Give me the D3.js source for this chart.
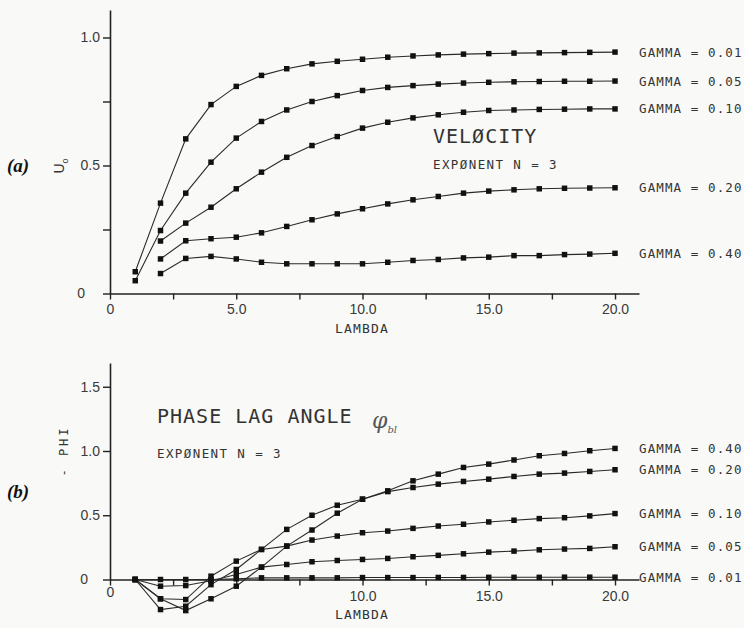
<!DOCTYPE html>
<html>
<head>
<meta charset="utf-8">
<script src="https://cdn.jsdelivr.net/npm/d3@7"></script>
<style>
  html, body { margin: 0; padding: 0; background: #f9f9f7; }
  svg { display: block; }
</style>
</head>
<body>
<div id="chart"></div>
<script>
// lambda values (x), shared by both panels
const lambda = [1, 2, 3, 4, 5, 6, 7, 8, 9, 10, 11, 12, 13, 14, 15, 16, 17, 18, 19, 20]
const gammas = ['0.01', '0.05', '0.10', '0.20', '0.40']

// (a) velocity U0, one array per gamma (null = not computed)
const velG001 = [0.085, 0.353, 0.604, 0.738, 0.809, 0.852, 0.878, 0.897, 0.907, 0.915, 0.923, 0.928, 0.932, 0.935, 0.937, 0.939, 0.940, 0.941, 0.942, 0.943]
const velG005 = [0.05, 0.246, 0.392, 0.513, 0.607, 0.672, 0.717, 0.750, 0.773, 0.793, 0.805, 0.812, 0.818, 0.822, 0.825, 0.827, 0.828, 0.829, 0.829, 0.830]
const velG010 = [null, 0.205, 0.275, 0.337, 0.409, 0.474, 0.532, 0.578, 0.613, 0.646, 0.669, 0.686, 0.698, 0.708, 0.715, 0.717, 0.719, 0.720, 0.721, 0.721]
const velG020 = [null, 0.135, 0.206, 0.214, 0.220, 0.237, 0.262, 0.288, 0.311, 0.331, 0.350, 0.366, 0.379, 0.392, 0.400, 0.405, 0.409, 0.411, 0.412, 0.413]
const velG040 = [null, 0.078, 0.137, 0.145, 0.135, 0.122, 0.116, 0.116, 0.116, 0.116, 0.122, 0.129, 0.133, 0.139, 0.142, 0.148, 0.148, 0.152, 0.154, 0.157]

// (b) phase lag angle -PHI
const phiG001 = [0, 0, 0, 0, 0.005, 0.013, 0.013, 0.013, 0.013, 0.015, 0.015, 0.015, 0.016, 0.016, 0.017, 0.017, 0.017, 0.018, 0.018, 0.018]
const phiG005 = [0, -0.052, -0.047, -0.01, 0.039, 0.096, 0.117, 0.138, 0.148, 0.156, 0.164, 0.177, 0.188, 0.200, 0.213, 0.221, 0.231, 0.237, 0.242, 0.255]
const phiG010 = [0, -0.15, -0.156, 0.026, 0.143, 0.234, 0.260, 0.307, 0.338, 0.364, 0.377, 0.398, 0.416, 0.430, 0.448, 0.461, 0.474, 0.481, 0.495, 0.513]
const phiG020 = [0, -0.234, -0.208, -0.04, 0.078, 0.234, 0.390, 0.500, 0.578, 0.625, 0.684, 0.716, 0.742, 0.763, 0.781, 0.802, 0.820, 0.828, 0.841, 0.854]
const phiG040 = [0, -0.15, -0.242, -0.15, -0.052, 0.096, 0.260, 0.385, 0.516, 0.625, 0.690, 0.768, 0.820, 0.872, 0.898, 0.930, 0.963, 0.981, 1.002, 1.020]

// ticks
const lambdaTicks = [0, 2.5, 5, 7.5, 10, 12.5, 15, 17.5, 20]
const velLambdaLabels = [0, 5, 10, 15, 20]
const phiLambdaLabels = [0, 10, 15, 20]
const velTicks = [0, 0.25, 0.5, 0.75, 1.0]
const velTickLabels = [0, 0.5, 1.0]
const phiTicks = [0, 0.5, 1.0, 1.5]
const phiTickLabels = [0, 0.5, 1.0, 1.5]

const W = 744
const H = 628
const INK = '#222'
const MONO = '"DejaVu Sans Mono", "Liberation Mono", monospace'
const SANS = '"Liberation Sans", Arial, sans-serif'

const svg = d3.select('#chart').append('svg')
  .attr('width', W)
  .attr('height', H)
  .attr('viewBox', `0 0 ${W} ${H}`)

svg.append('rect').attr('width', W).attr('height', H).attr('fill', '#f9f9f7')

const fmt = (d) => (d === 0 ? '0' : d3.format('.1f')(d))

function drawPanel(cfg) {
  const g = svg.append('g')
  const x = d3.scaleLinear().domain([0, 20.95]).range([110, 639])
  const y = d3.scaleLinear().domain([0, cfg.yMax]).range([cfg.y0, cfg.yTop])

  const xAxis = d3.axisBottom(x)
    .tickValues(lambdaTicks)
    .tickSize(6)
    .tickSizeOuter(0)
    .tickPadding(cfg.xPad)
    .tickFormat((d) => (cfg.xLabels.includes(d) ? fmt(d) : ''))

  const yAxis = d3.axisLeft(y)
    .tickValues(cfg.yTicks)
    .tickSize(7)
    .tickSizeOuter(0)
    .tickPadding(3)
    .tickFormat((d) => (cfg.yLabels.includes(d) ? fmt(d) : ''))

  const gx = g.append('g').attr('transform', `translate(0,${cfg.y0})`).call(xAxis)
  const gy = g.append('g').attr('transform', 'translate(110,0)').call(yAxis)

  ;[gx, gy].forEach((a) => {
    a.select('.domain').attr('stroke', INK).attr('stroke-width', 1.6)
    a.selectAll('.tick line').attr('stroke', INK).attr('stroke-width', 1.4)
    a.selectAll('.tick text')
      .attr('fill', '#3a3a3a')
      .style('font-family', SANS)
      .style('font-size', '14px')
  })
  gy.selectAll('.tick text').filter((d) => d === 0).attr('x', cfg.zeroX)
  gx.selectAll('.tick text').filter((d) => d === 0).attr('y', cfg.xPad + 6 + cfg.zeroLift)

  const line = d3.line()
    .defined((d) => d[1] != null)
    .x((d) => x(d[0]))
    .y((d) => y(d[1]))

  cfg.series.forEach((vals, i) => {
    const pts = lambda.map((l, j) => [l, vals[j]])
    g.append('path')
      .datum(pts)
      .attr('d', line)
      .attr('fill', 'none')
      .attr('stroke', '#2a2a2a')
      .attr('stroke-width', 1.1)

    g.append('g').selectAll('path')
      .data(pts.filter((p) => p[1] != null))
      .join('path')
      .attr('d', d3.symbol(d3.symbolSquare, 30))
      .attr('transform', (d) => `translate(${x(d[0])},${y(d[1])})`)
      .attr('fill', '#111')

    const last = pts[pts.length - 1]
    g.append('text')
      .attr('x', 639)
      .attr('y', y(last[1]))
      .attr('dy', '0.36em')
      .attr('fill', '#333')
      .style('font-family', MONO)
      .style('font-size', '12.5px')
      .style('letter-spacing', '1.1px')
      .text(`GAMMA = ${gammas[i]}`)
  })

  g.append('text')
    .attr('x', 362)
    .attr('y', cfg.lambdaY)
    .attr('text-anchor', 'middle')
    .attr('fill', '#333')
    .style('font-family', MONO)
    .style('font-size', '13px')
    .style('letter-spacing', '1.2px')
    .text('LAMBDA')

  g.append('text')
    .attr('x', 7)
    .attr('y', cfg.tagY)
    .attr('fill', '#111')
    .style('font-family', '"Liberation Serif", "DejaVu Serif", serif')
    .style('font-style', 'italic')
    .style('font-weight', 'bold')
    .style('font-size', '19px')
    .text(cfg.tag)

  return { x, y, g }
}

// panel (a)
const panelA = drawPanel({
  y0: 293.5, yTop: 10, yMax: 283.5 / 256,
  yTicks: velTicks, yLabels: velTickLabels,
  xLabels: velLambdaLabels, xPad: 5, zeroX: -25, zeroLift: 0,
  series: [velG001, velG005, velG010, velG020, velG040],
  lambdaY: 333, tag: '(a)', tagY: 172,
})

const uLabel = panelA.g.append('text')
  .attr('transform', 'translate(64,166) rotate(-90)')
  .attr('text-anchor', 'middle')
  .attr('fill', '#333')
  .style('font-family', SANS)
  .style('font-size', '14px')
uLabel.append('tspan').text('U')
uLabel.append('tspan').attr('dy', 4).style('font-size', '9px').text('o')

panelA.g.append('text')
  .attr('x', 433).attr('y', 143)
  .attr('fill', '#333')
  .style('font-family', MONO)
  .style('font-size', '20px')
  .style('letter-spacing', '1px')
  .text('VELØCITY')

panelA.g.append('text')
  .attr('x', 433).attr('y', 169)
  .attr('fill', '#333')
  .style('font-family', MONO)
  .style('font-size', '12.5px')
  .style('letter-spacing', '1.4px')
  .text('EXPØNENT N = 3')

// panel (b)
const panelB = drawPanel({
  y0: 579.5, yTop: 363, yMax: 216.5 / 128.5,
  yTicks: phiTicks, yLabels: phiTickLabels,
  xLabels: phiLambdaLabels, xPad: 6, zeroX: -22, zeroLift: -4,
  series: [phiG001, phiG005, phiG010, phiG020, phiG040],
  lambdaY: 619, tag: '(b)', tagY: 498,
})

panelB.g.append('text')
  .attr('transform', 'translate(68,451) rotate(-90)')
  .attr('text-anchor', 'middle')
  .attr('fill', '#333')
  .style('font-family', MONO)
  .style('font-size', '12px')
  .style('letter-spacing', '3px')
  .text('- PHI')

panelB.g.append('text')
  .attr('x', 157).attr('y', 423)
  .attr('fill', '#333')
  .style('font-family', MONO)
  .style('font-size', '20px')
  .style('letter-spacing', '1px')
  .text('PHASE LAG ANGLE')

const phiSymbol = panelB.g.append('text')
  .attr('x', 372).attr('y', 428)
  .attr('fill', '#555')
  .style('font-family', '"DejaVu Serif", serif')
  .style('font-style', 'italic')
  .style('font-size', '22px')
phiSymbol.append('tspan').text('φ')
phiSymbol.append('tspan').attr('dy', 5).style('font-size', '10px').text('bl')

panelB.g.append('text')
  .attr('x', 157).attr('y', 458)
  .attr('fill', '#333')
  .style('font-family', MONO)
  .style('font-size', '12.5px')
  .style('letter-spacing', '1.4px')
  .text('EXPØNENT N = 3')
</script>
</body>
</html>
